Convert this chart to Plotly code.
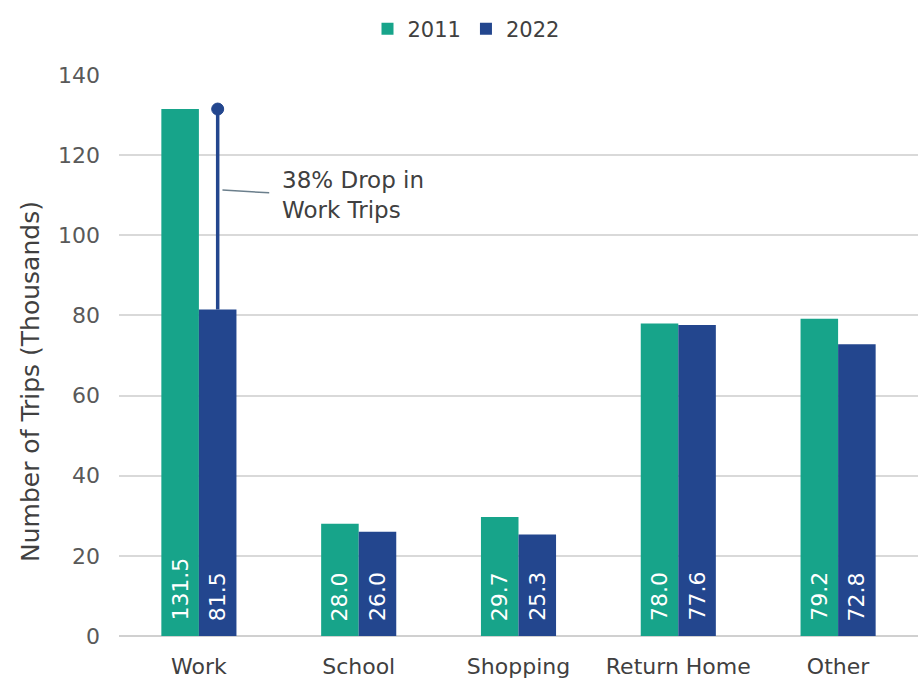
import plotly.graph_objects as go

categories = ["Work", "School", "Shopping", "Return Home", "Other"]
trips_2011 = [131.5, 28.0, 29.7, 78.0, 79.2]
trips_2022 = [81.5, 26.0, 25.3, 77.6, 72.8]
y_ticks = [0, 20, 40, 60, 80, 100, 120, 140]
note_text = "38% Drop in<br>Work Trips"
y_title = "Number of Trips (Thousands)"

C2011 = "#17a48a"
C2022 = "#23468e"
FONT = "DejaVu Sans, Arial, sans-serif"
FS = 22

bargap = 0.53
bw = (1 - bargap) / 2
off = bw / 2

fig = go.Figure()
fig.add_trace(go.Bar(name="2011", x=categories, y=trips_2011, marker_color=C2011,
                     marker_line_width=0))
fig.add_trace(go.Bar(name="2022", x=categories, y=trips_2022, marker_color=C2022,
                     marker_line_width=0))

# value labels at bar bottoms, rotated
for i, (a, b) in enumerate(zip(trips_2011, trips_2022)):
    for dx, v in ((-off, a), (off, b)):
        fig.add_annotation(x=i + dx, y=0, xref="x", yref="y", text=f"{v:.1f}",
                           textangle=-90, showarrow=False, xanchor="center",
                           yanchor="bottom", yshift=13,
                           font=dict(size=FS, color="white", family=FONT))

# vertical drop line
fig.add_shape(type="line", xref="x", yref="y", x0=off, x1=off,
              y0=trips_2022[0], y1=trips_2011[0], line=dict(color=C2022, width=3.5))
fig.add_shape(type="circle", xref="x", yref="y", xsizemode="pixel", ysizemode="pixel",
              xanchor=off, yanchor=trips_2011[0], x0=-6, x1=6, y0=-6, y1=6,
              fillcolor=C2022, line=dict(color=C2022, width=1))
# connector
fig.add_shape(type="line", xref="x", yref="y", x0=off + 0.03, x1=0.44,
              y0=111.3, y1=110.6, line=dict(color="#6b7f8c", width=1.5))

fig.add_annotation(x=0.51, y=110.0, xref="x", yref="y", text=note_text,
                   showarrow=False, xanchor="left", yanchor="middle", align="left",
                   font=dict(size=23, color="#404040", family=FONT))

# y-axis title
fig.add_annotation(xref="x domain", yref="y domain",
                   x=(30 - 119) / 799, y=(636 - 382) / 561,
                   text=y_title, textangle=-90, showarrow=False,
                   xanchor="center", yanchor="middle",
                   font=dict(size=25, color="#404040", family=FONT))

fig.update_layout(
    width=920, height=681,
    margin=dict(l=119, r=2, t=75, b=45, autoexpand=False),
    paper_bgcolor="white", plot_bgcolor="white",
    barmode="group", bargap=bargap, bargroupgap=0,
    font=dict(family=FONT, size=FS, color="#595959"),
    legend=dict(orientation="h", xref="container", yref="container",
                x=466 / 920, xanchor="center", y=1 - 29 / 681, yanchor="middle",
                font=dict(size=21, color="#404040"), itemwidth=30,
                traceorder="normal", tracegroupgap=0),
    showlegend=True,
)
fig.update_xaxes(showline=False, ticks="", automargin=False, ticklabelstandoff=15,
                 tickfont=dict(size=FS, color="#404040"))
fig.update_yaxes(range=[0, 140], tickvals=y_ticks, showgrid=True, gridcolor="#d9d9d9",
                 gridwidth=1.5, zeroline=True, zerolinecolor="#d0d0d0", zerolinewidth=1.5,
                 tickfont=dict(size=FS, color="#595959"), ticks="", automargin=False,
                 ticklabelstandoff=18)

fig.write_html("out.html", config={"displayModeBar": False},
               post_script="document.body.style.margin='0';")
